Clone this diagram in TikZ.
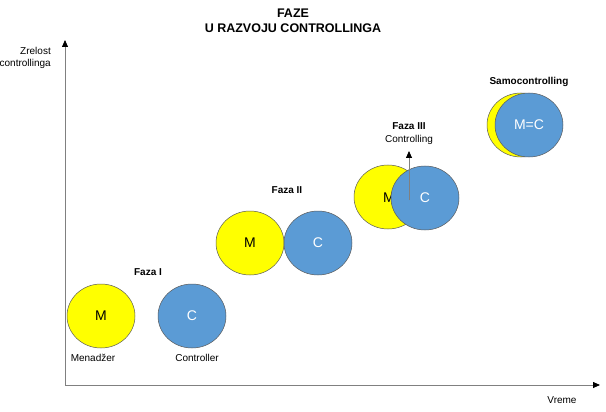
\documentclass[tikz,border=0pt]{standalone}
\usepackage{fontspec}
\setmainfont{Liberation Sans}
\usetikzlibrary{arrows.meta,shapes.geometric}
\definecolor{myyellow}{HTML}{FFFF00}
\definecolor{myblue}{HTML}{5B9BD5}
\definecolor{axisgray}{HTML}{808080}
\tikzset{
  mcirc/.style={ellipse,draw=black!65,line width=0.5pt,fill=myyellow,minimum width=68pt,minimum height=64pt,inner sep=0pt,font=\fontsize{14}{16}\selectfont,text=black},
  ccirc/.style={ellipse,draw=black!65,line width=0.5pt,fill=myblue,minimum width=68pt,minimum height=64pt,inner sep=0pt,font=\fontsize{14}{16}\selectfont,text=white},
  lbl/.style={font=\fontsize{10}{12}\selectfont,inner sep=0pt},
  blbl/.style={font=\bfseries\fontsize{10}{12}\selectfont,inner sep=0pt},
  axis/.style={draw=axisgray,line width=0.8pt,-{Triangle[black,length=7pt,width=6pt]}}
}
\begin{document}
\begin{tikzpicture}[x=1pt,y=-1pt]
\useasboundingbox (0,0) rectangle (606,412);
% title
\node[font=\bfseries\fontsize{12.5}{15}\selectfont,align=center,inner sep=0pt] (title) at (293,21) {FAZE\\U RAZVOJU CONTROLLINGA};
% axes
\coordinate (origin) at (65,385);
\coordinate (ytop) at (65,40);
\coordinate (xend) at (600,385);
\draw[axis] (origin) -- (ytop);
\draw[axis] (origin) -- (xend);
\node[lbl,align=right,anchor=east] (ylab) at (51,58) {Zrelost\\controllinga};
\node[lbl] (xlab) at (562,400) {Vreme};
% phase I
\node[mcirc] (m1) at (101,316) {M};
\node[ccirc] (c1) at (192,316) {C};
\node[blbl] (f1) at (148,272) {Faza I};
\node[lbl] (men) at (93,358) {Menadžer};
\node[lbl] (con) at (197,358) {Controller};
% phase II
\node[mcirc] (m2) at (250,243) {M};
\node[ccirc] (c2) at (318,243) {C};
\node[blbl] (f2) at (287,190) {Faza II};
% phase III
\node[mcirc] (m3) at (388,197) {};
\node[font=\fontsize{14}{16}\selectfont,inner sep=0pt] (m3t) at (389,198) {M};
\node[ccirc] (c3) at (425,198) {C};
\node[blbl] (f3) at (409,126) {Faza III};
\node[lbl] (ctl) at (409,140) {Controlling};
\coordinate (arrS) at (409,200);
\coordinate (arrE) at (409,151);
\draw[axis] (arrS) -- (arrE);
% samocontrolling
\node[mcirc] (m4) at (521,125) {};
\node[ccirc] (c4) at (529,125) {M=C};
\node[blbl] (samo) at (529,82) {Samocontrolling};
\end{tikzpicture}
\end{document}
